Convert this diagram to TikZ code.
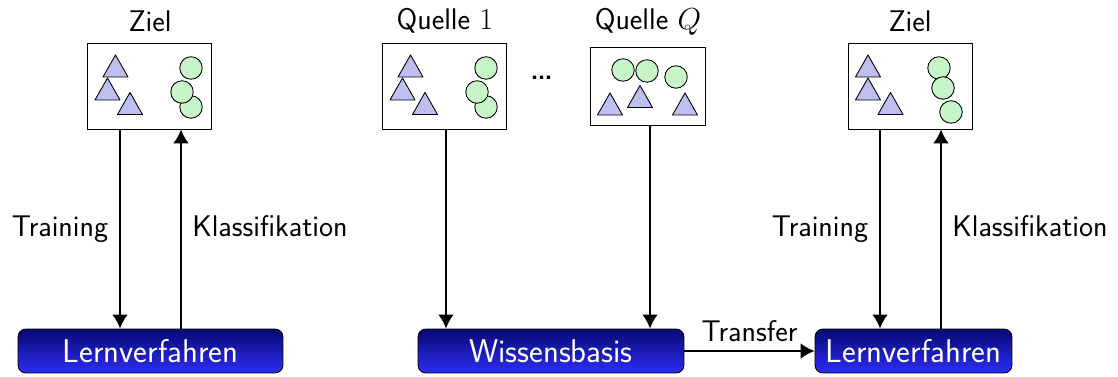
\documentclass[tikz,border=0pt]{standalone}
\usepackage{fontspec}
\usetikzlibrary{arrows.meta}
\renewcommand{\familydefault}{\sfdefault}
\definecolor{trifill}{RGB}{190,190,240}
\definecolor{circfill}{RGB}{200,245,200}
\definecolor{btop}{RGB}{8,8,115}
\definecolor{bbot}{RGB}{45,45,245}
\newcommand{\trig}[2]{\draw[trist] (#1-12.5,#2+11) -- (#1,#2-11) -- (#1+12.5,#2+11) -- cycle;}
\newcommand{\circl}[2]{\draw[circst] (#1,#2) circle[radius=0.225cm];}
\begin{document}
\begin{tikzpicture}[x=0.02cm,y=-0.02cm,
  lbl/.style={font=\fontsize{17}{20}\selectfont, inner sep=0pt},
  imgbox/.style={draw=black, line width=0.5pt, fill=white, inner sep=0pt},
  learn/.style={draw=black, line width=0.5pt, rounded corners=0.16cm, top color=btop, bottom color=bbot,
     text=white, font=\fontsize{18.7}{22}\selectfont, minimum height=0.88cm, inner sep=0pt},
  trist/.style={draw=black, line width=0.5pt, fill=trifill, line join=round},
  circst/.style={draw=black, line width=0.5pt, fill=circfill},
  arr/.style={line width=1.1pt, -{Latex[length=8pt,width=9pt]}}
]
\useasboundingbox (0,0) rectangle (1118,377);

% titles
\node[lbl, anchor=base] (t1) at (150,32) {Ziel};
\node[lbl, anchor=base] (t2) at (445,30) {Quelle $1$};
\node[lbl, anchor=base] (t3) at (648,30) {Quelle $Q$};
\node[lbl, anchor=base] (t4) at (910,32) {Ziel};

% image boxes
\node[imgbox, minimum width=2.48cm, minimum height=1.72cm] (box1) at (149,86) {};
\node[imgbox, minimum width=2.48cm, minimum height=1.72cm] (box2) at (444,86) {};
\node[imgbox, minimum width=2.30cm, minimum height=1.56cm] (box3) at (647.5,86) {};
\node[imgbox, minimum width=2.48cm, minimum height=1.72cm] (box4) at (910,86) {};
\node[lbl, anchor=base, font=\fontsize{24}{26}\selectfont] (dots) at (542,80) {\dots};

% box1 content
\trig{115.5}{66}\trig{107.5}{89}\trig{130}{103.5}
\circl{191}{68}\circl{191}{107}\circl{182}{92}
% box2 content
\trig{410.5}{66}\trig{402.5}{89}\trig{425}{103.5}
\circl{486}{68}\circl{486}{107}\circl{477}{92}
% box3 content
\circl{623}{70}\circl{647}{71}\circl{676}{77}
\trig{610}{104}\trig{640}{96.5}\trig{685}{104}
% box4 content
\trig{868}{66}\trig{868}{89}\trig{890.5}{103.5}
\circl{939}{68}\circl{951}{112}\circl{943}{88}

% learning nodes
\node[learn, minimum width=5.30cm] (lv1) at (150.5,351) {Lernverfahren};
\node[learn, minimum width=5.32cm] (wb) at (551,351) {Wissensbasis};
\node[learn, minimum width=3.94cm] (lv2) at (913.5,351) {Lernverfahren};

% connectors
\draw[arr] ([xshift=-0.58cm]box1.south) -- ([xshift=-0.58cm]box1.south |- lv1.north);
\draw[arr] ([xshift=0.64cm]box1.south |- lv1.north) -- ([xshift=0.64cm]box1.south);
\draw[arr] ([xshift=0.04cm]box2.south) -- ([xshift=0.04cm]box2.south |- wb.north);
\draw[arr] ([xshift=0.05cm]box3.south) -- ([xshift=0.05cm]box3.south |- wb.north);
\draw[arr] ([xshift=-0.6cm]box4.south) -- ([xshift=-0.6cm]box4.south |- lv2.north);
\draw[arr] ([xshift=0.62cm]box4.south |- lv2.north) -- ([xshift=0.62cm]box4.south);
\draw[arr] (wb.east) -- node[lbl, above, yshift=5pt] (tf) {Transfer} (lv2.west);

% labels
\node[lbl, anchor=base] (tr1) at (60,237) {Training};
\node[lbl, anchor=base] (kl1) at (270,237) {Klassifikation};
\node[lbl, anchor=base] (tr2) at (820,237) {Training};
\node[lbl, anchor=base] (kl2) at (1030,237) {Klassifikation};
\end{tikzpicture}
\end{document}
